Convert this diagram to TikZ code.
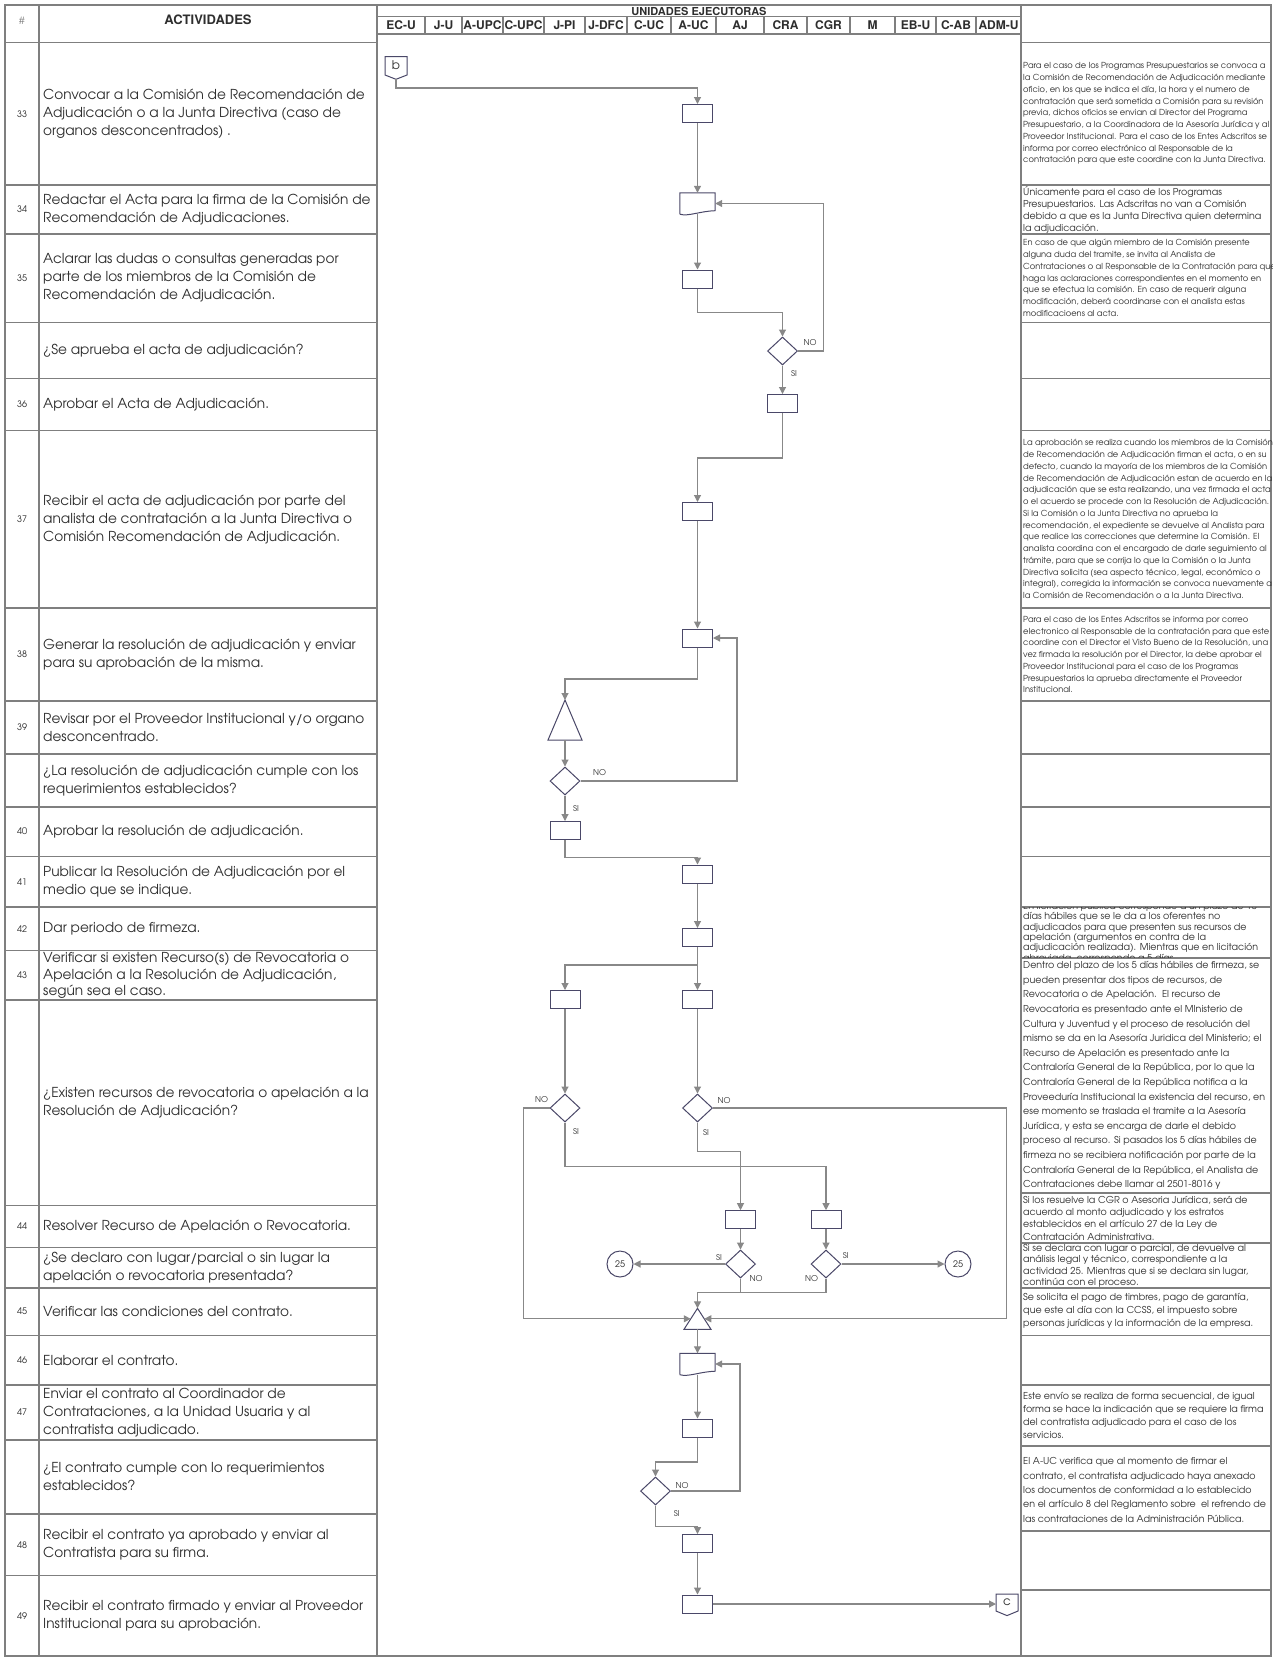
\documentclass[tikz,border=0pt]{standalone}
\usepackage{fontspec}
\setmainfont{texgyreadventor-regular.otf}[BoldFont=texgyreadventor-bold.otf]
\newfontfamily\hdrfont{texgyreheros-bold.otf}
\usetikzlibrary{arrows.meta,shapes.geometric}
\definecolor{gridgray}{HTML}{7F7F7F}
\definecolor{flowgray}{HTML}{888888}
\definecolor{shapeblue}{HTML}{4A4868}
\definecolor{ink}{HTML}{2E2E2E}
\newcommand\fsAct{\fontsize{13.7pt}{18pt}\selectfont}
\newcommand\fsSmall{\fontsize{8.3pt}{11.75pt}\selectfont}
\newcommand\fsBig{\fontsize{9.5pt}{12pt}\selectfont}
\begin{document}
\begin{tikzpicture}[x=1pt,y=-1pt,
  grid/.style={draw=gridgray,line width=1.6pt},
  flow/.style={draw=flowgray,line width=1.1pt},
  arr/.style={flow,-{Triangle[length=7pt,width=7pt]}},
  shp/.style={draw=shapeblue,line width=1pt,fill=white},
  box/.style={shp,rectangle,minimum width=30pt,minimum height=18pt,inner sep=0pt},
  dia/.style={shp,diamond,minimum width=30pt,minimum height=28pt,inner sep=0pt},
  docn/.style={rectangle,minimum width=35pt,minimum height=21pt,inner sep=0pt},
  conn/.style={shp,circle,minimum size=26pt,inner sep=0pt,font=\fontsize{9pt}{10pt}\selectfont,text=ink},
  yn/.style={font=\fontsize{8pt}{9pt}\selectfont,text=ink,inner sep=0pt},
  hdr/.style={font=\hdrfont\fontsize{12pt}{13pt}\selectfont,text=ink,inner sep=0pt},
  act/.style={anchor=west,align=left,font=\fsAct,text=ink,inner sep=0pt},
  num/.style={font=\fontsize{9pt}{10pt}\selectfont,text=ink,inner sep=0pt},
  note/.style={anchor=west,align=left,text=ink,inner sep=0pt},
]
\useasboundingbox (0,0) rectangle (1273,1658);
\fill[white] (0,0) rectangle (1273,1658);

% ---------- table frame ----------
\draw[grid] (5,5) rectangle (1271,1656);
\draw[grid] (39,5) -- (39,1656);
\draw[grid] (377,5) -- (377,1656);
\draw[grid] (1021,5) -- (1021,1656);
\draw[grid] (377,16.5) -- (1021,16.5);
\draw[grid] (377,34) -- (1021,34);
\foreach \y in {42.3,185,233.7,322.5,378.5,430.3,608,701,754,806.7,856.4,907.2,950.5,1000.2,1205.3,1247.6,1287.8,1335.4,1385,1440,1514,1575.4}
  \draw[grid] (5,\y) -- (377,\y);
\foreach \y in {42.3,185,233.7,322.5,378.5,430.3,608,701,754,806.7,856.4,907.2,957.9,1193,1243,1287.8,1335.4,1385,1446,1531,1590}
  \draw[grid] (1021,\y) -- (1271,\y);

% ---------- headers ----------
\node[num,text=gridgray,font=\fontsize{10pt}{11pt}\selectfont] (hash) at (22,21) {\#};
\node[hdr,font=\hdrfont\fontsize{13pt}{14pt}\selectfont] (acth) at (208,19.5) {ACTIVIDADES};
\node[hdr,font=\hdrfont\fontsize{11pt}{12pt}\selectfont] (unid) at (699,11.2) {UNIDADES EJECUTORAS};
\foreach \xa/\xb/\lab in {377/425/EC-U,425/462/J-U,462/503/A-UPC,503/544/C-UPC,544/585/J-PI,585/627/J-DFC,627/671/C-UC,671/716/A-UC,716/764/AJ,764/807/CRA,807/850/CGR,850/895/M,895/936/EB-U,936/976/C-AB,976/1021/ADM-U}{
  \draw[grid] (\xb,16.5) -- (\xb,34);
  \node[hdr] (col-\lab) at ({(\xa+\xb)/2},25.5) {\lab};
}

% ---------- activity numbers ----------
\foreach \yc/\n in {113.7/33,209.4/34,278.1/35,404.4/36,519.2/37,654.5/38,727.5/39,831.6/40,881.8/41,928.8/42,975.4/43,1226.5/44,1311.6/45,1360.2/46,1412.5/47,1544.7/48,1615.7/49}
  \node[num] (n\n) at (22,\yc) {\n};

% ---------- activities ----------
\node[act] (a33) at (43,113.7) {Convocar a la Comisión de Recomendación de\\Adjudicación o a la Junta Directiva (caso de\\organos desconcentrados) .};
\node[act] (a34) at (43,209.4) {Redactar el Acta para la firma de la Comisión de\\Recomendación de Adjudicaciones.};
\node[act] (a35) at (43,278.1) {Aclarar las dudas o consultas generadas por\\parte de los miembros de la Comisión de\\Recomendación de Adjudicación.};
\node[act] (aq1) at (43,350.5) {¿Se aprueba el acta de adjudicación?};
\node[act] (a36) at (43,404.4) {Aprobar el Acta de Adjudicación.};
\node[act] (a37) at (43,519.2) {Recibir el acta de adjudicación  por parte del\\analista de contratación a la Junta Directiva o\\Comisión Recomendación de Adjudicación.};
\node[act] (a38) at (43,654.5) {Generar la resolución de adjudicación y enviar\\para su aprobación de la misma.};
\node[act] (a39) at (43,727.5) {Revisar por el Proveedor Institucional y/o organo\\desconcentrado.};
\node[act] (aq2) at (43,780.4) {¿La resolución de adjudicación cumple con los\\requerimientos establecidos?};
\node[act] (a40) at (43,831.6) {Aprobar la resolución de adjudicación.};
\node[act] (a41) at (43,881.8) {Publicar la Resolución de Adjudicación por el\\medio que se indique.};
\node[act] (a42) at (43,928.8) {Dar periodo de firmeza.};
\node[act,font=\fontsize{13.7pt}{16.8pt}\selectfont] (a43) at (43,975.4) {Verificar si existen Recurso(s) de Revocatoria o\\Apelación a la Resolución de Adjudicación,\\según sea el caso.};
\node[act] (aq3) at (43,1102.8) {¿Existen recursos de revocatoria o apelación a la\\Resolución de Adjudicación?};
\node[act] (a44) at (43,1226.5) {Resolver Recurso de Apelación o Revocatoria.};
\node[act] (aq4) at (43,1267.7) {¿Se declaro con lugar/parcial o sin lugar la\\apelación o revocatoria presentada?};
\node[act] (a45) at (43,1311.6) {Verificar las condiciones del contrato.};
\node[act] (a46) at (43,1360.2) {Elaborar el contrato.};
\node[act] (a47) at (43,1412.5) {Enviar el contrato al Coordinador de\\Contrataciones, a la Unidad Usuaria y al\\contratista adjudicado.};
\node[act] (aq5) at (43,1477) {¿El contrato cumple con lo requerimientos\\establecidos?};
\node[act] (a48) at (43,1544.7) {Recibir el contrato ya aprobado y enviar al\\Contratista para su firma.};
\node[act] (a49) at (43,1615.7) {Recibir el contrato firmado y enviar al Proveedor\\Institucional para su aprobación.};

% ---------- notes ----------
\node[note,font=\fsSmall] (m33) at (1023,113.7) {Para el caso de los Programas Presupuestarios se convoca a\\la Comisión de Recomendación de Adjudicación mediante\\oficio, en los que se indica el día, la hora y el numero de\\contratación que será sometida a Comisión para su revisión\\previa, dichos oficios se envian al Director del Programa\\Presupuestario, a la Coordinadora de la Asesoría Jurídica y al\\Proveedor Institucional. Para el caso de los Entes Adscritos se\\informa por correo electrónico al Responsable de la\\contratación para que este coordine con la Junta Directiva.};
\node[note,anchor=north west,font=\fsBig] (m34) at (1023,186.5) {Únicamente para el caso de los Programas\\Presupuestarios. Las Adscritas no van a Comisión\\debido a que es la Junta Directiva quien determina\\la adjudicación.};
\node[note,font=\fsSmall] (m35) at (1023,278.1) {En caso de que algún miembro de la Comisión presente\\alguna duda del tramite, se invita al Analista de\\Contrataciones o al Responsable de la Contratación para que\\haga las aclaraciones correspondientes en el momento en\\que se efectua la comisión. En caso de requerir alguna\\modificación, deberá coordinarse con el analista estas\\modificacioens al acta.};
\node[note,font=\fsSmall] (m37) at (1023,519.2) {La aprobación se realiza cuando los miembros de la Comisión\\de Recomendación de Adjudicación firman el acta, o en su\\defecto, cuando la mayoría de los miembros de la Comisión\\de Recomendación de Adjudicación estan de acuerdo en la\\adjudicación que se esta realizando, una vez firmada el acta\\o el acuerdo se procede con la Resolución de Adjudicación.\\Si la Comisión o la Junta Directiva no aprueba la\\recomendación, el expediente se devuelve al Analista para\\que realice las correcciones que determine la Comisión. El\\analista coordina con el encargado de darle seguimiento al\\trámite, para que se corrija lo que la Comisión o la Junta\\Directiva solicita (sea aspecto técnico, legal, económico o\\integral), corregida la información se convoca nuevamente a\\la Comisión de Recomendación o a la Junta Directiva.};
\node[note,font=\fsSmall] (m38) at (1023,654.5) {Para el caso de los Entes Adscritos se informa por correo\\electronico al Responsable de la contratación para que este\\coordine con el Director el Visto Bueno de la Resolución, una\\vez firmada la resolución por el Director, la debe aprobar el\\Proveedor Institucional para el caso de los Programas\\Presupuestarios la aprueba directamente el Proveedor\\Institucional.};
\begin{scope}
  \clip (1021,907.2) rectangle (1271,957.9);
  \node[note,font=\fontsize{9.5pt}{10.3pt}\selectfont] (m42) at (1023,932.6) {En licitación publica corresponde a un plazo de 10\\días hábiles que se le da a los oferentes no\\adjudicados para que presenten sus recursos de\\apelación (argumentos en contra de la\\adjudicación realizada). Mientras que en licitación\\abreviada, corresponde a 5 días};
\end{scope}
\node[note,font=\fontsize{9.5pt}{14.6pt}\selectfont] (m43) at (1023,1075.5) {Dentro del plazo de los 5 días hábiles de firmeza, se\\pueden presentar dos tipos de recursos, de\\Revocatoria o de Apelación.\ \ El recurso de\\Revocatoria es presentado ante el MInisterio de\\Cultura y Juventud y el proceso de resolución del\\mismo se da en la Asesoría Juridica del Ministerio; el\\Recurso de Apelación es presentado ante la\\Contraloría General de la República, por lo que la\\Contraloría General de la República notifica a la\\Proveeduría Institucional la existencia del recurso, en\\ese momento se traslada el tramite a la Asesoría\\Jurídica, y esta se encarga de darle el debido\\proceso al recurso. Si pasados los 5 días hábiles de\\firmeza no se recibiera notificación por parte de la\\Contraloría General de la República, el Analista de\\Contrataciones debe llamar al 2501-8016 y};
\begin{scope}
  \clip (1021,1193) rectangle (1271,1243);
  \node[note,font=\fontsize{9.5pt}{12.3pt}\selectfont] (m44) at (1023,1218) {Si los resuelve la CGR o Asesoria Jurídica, será de\\acuerdo al monto adjudicado y los estratos\\establecidos en el artículo 27 de la Ley de\\Contratación Administrativa.};
\end{scope}
\begin{scope}
  \clip (1021,1243) rectangle (1271,1287.8);
  \node[note,font=\fontsize{9.5pt}{11.4pt}\selectfont] (m44d) at (1023,1265.8) {Si se declara con lugar o parcial, de devuelve al\\análisis legal y técnico, correspondiente a la\\actividad 25. Mientras que si se declara sin lugar,\\continúa con el proceso.};
\end{scope}
\node[note,font=\fontsize{9.5pt}{13pt}\selectfont] (m45) at (1023,1310.5) {Se solicita el pago de timbres, pago de garantía,\\que este al día con la CCSS, el impuesto sobre\\personas jurídicas y la información de la empresa.};
\node[note,font=\fontsize{9.5pt}{13pt}\selectfont] (m47) at (1023,1415) {Este envío se realiza de forma secuencial, de igual\\forma se hace la indicación que se requiere la firma\\del contratista adjudicado para el caso de los\\servicios.};
\node[note,font=\fontsize{9.5pt}{14.3pt}\selectfont] (m47q) at (1023,1490) {El A-UC verifica que al momento de firmar el\\contrato, el contratista adjudicado haya anexado\\los documentos de conformidad a lo establecido\\en el artículo 8 del Reglamento sobre\ \ el refrendo de\\las contrataciones de la Administración Pública.};

% ---------- flowchart shapes ----------
\draw[shp] (385,56.7) -- (407,56.7) -- (407,75) -- (396,79.3) -- (385,75) -- cycle;
\node[font=\fontsize{12pt}{13pt}\selectfont,text=ink,inner sep=0pt] (offb) at (396,65.5) {b};
\coordinate (offbtip) at (396,79.3);

\node[box] (s33) at (697.5,113.5) {};
\node[docn] (d34) at (697.5,203.5) {};
\draw[shp] (d34.south west) -- (d34.north west) -- (d34.north east) -- ([yshift=3.5pt]d34.south east)
  .. controls ([xshift=2pt,yshift=3pt]d34.south) and ([xshift=-9pt,yshift=-2.5pt]d34.south) .. (d34.south west);
\node[box] (s35) at (697.5,279) {};
\node[dia] (q1) at (782.5,351) {};
\node[box] (s36) at (782.5,403.5) {};
\node[box] (s37) at (697.5,511.5) {};
\node[box] (s38) at (697.5,638) {};
\coordinate (t39) at (565,700);
\coordinate (t39b) at (565,740);
\draw[shp] (t39) -- (582,740) -- (548,740) -- cycle;
\node[dia] (q2) at (565,781) {};
\node[box] (s40) at (565,830.5) {};
\node[box] (s41) at (697.5,874) {};
\node[box] (s42) at (697.5,937.5) {};
\node[box] (s43a) at (565,999.5) {};
\node[box] (s43b) at (697.5,999.5) {};
\node[dia] (q3a) at (565,1108) {};
\node[dia] (q3b) at (697.5,1108) {};
\node[box] (s44a) at (740.5,1219.7) {};
\node[box] (s44b) at (826,1219.7) {};
\node[dia] (q4a) at (740.5,1264) {};
\node[dia] (q4b) at (826,1264) {};
\node[conn] (cL) at (620,1264) {25};
\node[conn] (cR) at (958,1264) {25};
\coordinate (t45) at (697.5,1308.3);
\coordinate (t45b) at (697.5,1329.3);
\coordinate (t45l) at (690.75,1318.8);
\coordinate (t45r) at (704.25,1318.8);
\draw[shp] (t45) -- (711,1329.3) -- (684,1329.3) -- cycle;
\node[docn] (d46) at (697.5,1364) {};
\draw[shp] (d46.south west) -- (d46.north west) -- (d46.north east) -- ([yshift=3.5pt]d46.south east)
  .. controls ([xshift=2pt,yshift=3pt]d46.south) and ([xshift=-9pt,yshift=-2.5pt]d46.south) .. (d46.south west);
\node[box] (s47) at (697.5,1428) {};
\node[dia] (q5) at (655.5,1491) {};
\node[box] (s48) at (697.5,1543.5) {};
\node[box] (s49) at (697.5,1604) {};
\draw[shp] (996,1594) -- (1018,1594) -- (1018,1611) -- (1007,1615.6) -- (996,1611) -- cycle;
\node[font=\fontsize{12pt}{13pt}\selectfont,text=ink,inner sep=0pt] (offc) at (1007,1602.5) {c};
\coordinate (offcin) at (996,1604);

% ---------- bend points ----------
\coordinate (kb) at (396,88);
\coordinate (k35) at (697.5,312.3);
\coordinate (r1) at (823.3,351);
\coordinate (k36) at (782.5,458);
\coordinate (k38) at (697.5,679);
\coordinate (r2) at (737,781);
\coordinate (k40) at (565,857.5);
\coordinate (k42) at (697.5,965);
\coordinate (r3) at (523.3,1108);
\coordinate (r4) at (1006.7,1108);
\coordinate (k3a) at (565,1166.7);
\coordinate (k3b) at (697.5,1151.7);
\coordinate (k4a) at (740.5,1292.7);
\coordinate (k4b) at (826,1292.7);
\coordinate (k47) at (697.5,1462);
\coordinate (r5) at (740,1491);
\coordinate (k5) at (655.5,1526.7);

% ---------- connectors ----------
\draw[arr] (offbtip) -- (kb) -| (s33);
\draw[arr] (s33) -- (d34);
\draw[arr] (d34) -- (s35);
\draw[arr] (s35) -- (k35) -| (q1);
\draw[arr] (q1) -- (r1) |- (d34.east);
\draw[arr] (q1) -- (s36);
\draw[arr] (s36) -- (k36) -| (s37);
\draw[arr] (s37) -- (s38);
\draw[arr] (s38) -- (k38) -| (t39);
\draw[arr] (t39b) -- (q2);
\draw[arr] (q2) -- (r2) |- (s38.east);
\draw[arr] (q2) -- (s40);
\draw[arr] (s40) -- (k40) -| (s41);
\draw[arr] (s41) -- (s42);
\draw[arr] (s42) -- (s43b);
\draw[arr] (k42) -| (s43a);
\draw[arr] (s43a) -- (q3a);
\draw[arr] (s43b) -- (q3b);
\draw[arr] (q3a) -- (r3) |- (t45l);
\draw[arr] (q3b) -- (r4) |- (t45r);
\draw[arr] (q3a) -- (k3a) -| (s44b);
\draw[arr] (q3b) -- (k3b) -| (s44a);
\draw[arr] (s44a) -- (q4a);
\draw[arr] (s44b) -- (q4b);
\draw[arr] (q4a) -- (cL);
\draw[arr] (q4b) -- (cR);
\draw[arr] (q4a) -- (k4a) -| (t45);
\draw[flow] (q4b) -- (k4b) -- (k4a);
\draw[arr] (t45b) -- (d46);
\draw[arr] (d46) -- (s47);
\draw[arr] (s47) -- (k47) -| (q5);
\draw[arr] (q5) -- (r5) |- (d46.east);
\draw[arr] (q5) -- (k5) -| (s48);
\draw[arr] (s48) -- (s49);
\draw[arr] (s49) -- (offcin);

% ---------- decision labels ----------
\node[yn] (l1n) at (810,343) {NO};
\node[yn] (l1s) at (794,374) {SI};
\node[yn] (l2n) at (599.5,773) {NO};
\node[yn] (l2s) at (576,809) {SI};
\node[yn] (l3an) at (541.7,1099.3) {NO};
\node[yn] (l3as) at (576,1131.7) {SI};
\node[yn] (l3bn) at (724,1100.7) {NO};
\node[yn] (l3bs) at (706,1132.7) {SI};
\node[yn] (l4as) at (719,1257.3) {SI};
\node[yn] (l4an) at (756,1278.3) {NO};
\node[yn] (l4bs) at (845.7,1255.7) {SI};
\node[yn] (l4bn) at (811.7,1278.3) {NO};
\node[yn] (l5n) at (682,1485.5) {NO};
\node[yn] (l5s) at (676.7,1514) {SI};
\end{tikzpicture}
\end{document}
